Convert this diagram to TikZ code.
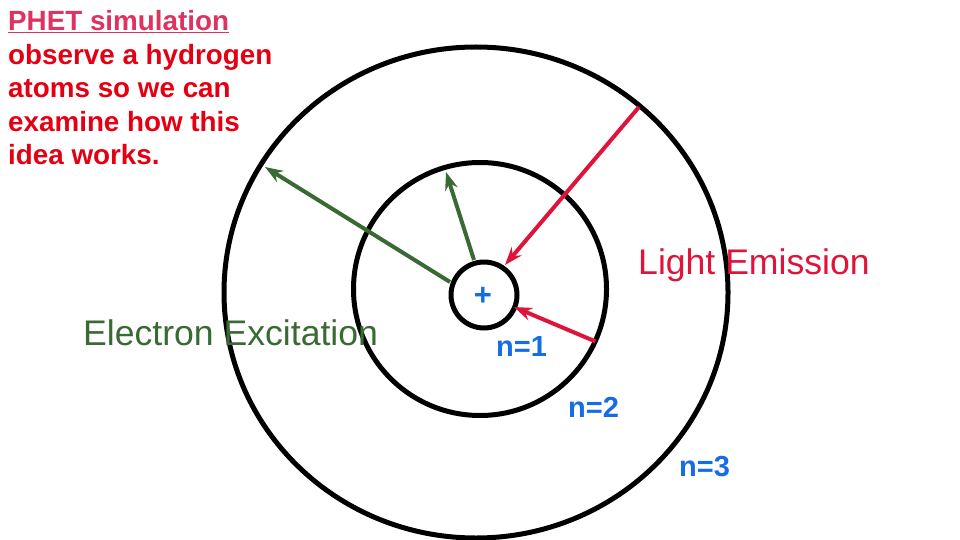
\documentclass[tikz,border=0pt]{standalone}
\usepackage{fontspec}
\setmainfont{Liberation Sans}
\usetikzlibrary{arrows.meta}
\definecolor{headpink}{RGB}{222,50,96}
\definecolor{bodyred}{RGB}{228,0,18}
\definecolor{emred}{RGB}{222,20,58}
\definecolor{exgreen}{RGB}{58,106,52}
\definecolor{lblblue}{RGB}{22,108,228}
\tikzset{
  orbit/.style={draw=black, line width=5pt},
  excite/.style={draw=exgreen, line width=4pt, -{Stealth[length=18pt,width=13pt,inset=6pt]}},
  emit/.style={draw=emred, line width=4pt, -{Stealth[length=18pt,width=13pt,inset=6pt]}},
  nlabel/.style={text=lblblue, font=\bfseries\fontsize{29}{32}\selectfont, inner sep=0pt, anchor=base west},
  biglabel/.style={font=\fontsize{35.6}{40}\selectfont, inner sep=0pt, anchor=base west}
}
\begin{document}
\begin{tikzpicture}[x=1pt,y=-1pt]
\useasboundingbox (0,0) rectangle (960,540);
% orbits
\draw[orbit] (476,292.5) ellipse [x radius=252, y radius=245.5];
\node[orbit, circle, minimum size=253pt, inner sep=0pt] (mid) at (480,289) {};
\node[orbit, circle, minimum size=66pt, inner sep=0pt] (nuc) at (484,295) {};
\node[text=lblblue, font=\bfseries\fontsize{31}{34}\selectfont, inner sep=0pt] (plus) at (483,296) {+};
% arrow end points
\coordinate (g1s) at (450,282);
\coordinate (g1e) at (265,167);
\coordinate (g2s) at (474,260);
\coordinate (g2e) at (446,172);
\coordinate (r1s) at (639,107);
\coordinate (r1e) at (505,265);
\coordinate (r2s) at (595.5,341.5);
\coordinate (r2e) at (514,307);
\draw[excite] (g1s) -- (g1e);
\draw[excite] (g2s) -- (g2e);
\draw[emit] (r1s) -- (r1e);
\draw[emit] (r2s) -- (r2e);
% labels
\node[biglabel, text=emred] (em) at (638,274) {Light Emission};
\node[biglabel, text=exgreen] (ex) at (83,345) {Electron Excitation};
\node[nlabel] (n1) at (496,356) {n=1};
\node[nlabel] (n2) at (568,417) {n=2};
\node[nlabel] (n3) at (679,476) {n=3};
% heading text
\node[anchor=north west, inner sep=0pt, align=left, text=bodyred,
      font=\bfseries\fontsize{27.8}{33.5}\selectfont] (intro) at (8,10.5)
  {\textcolor{headpink}{\underline{PHET simulation}}\\
   observe a hydrogen\\
   atoms so we can\\
   examine how this\\
   idea works.};
\end{tikzpicture}
\end{document}
